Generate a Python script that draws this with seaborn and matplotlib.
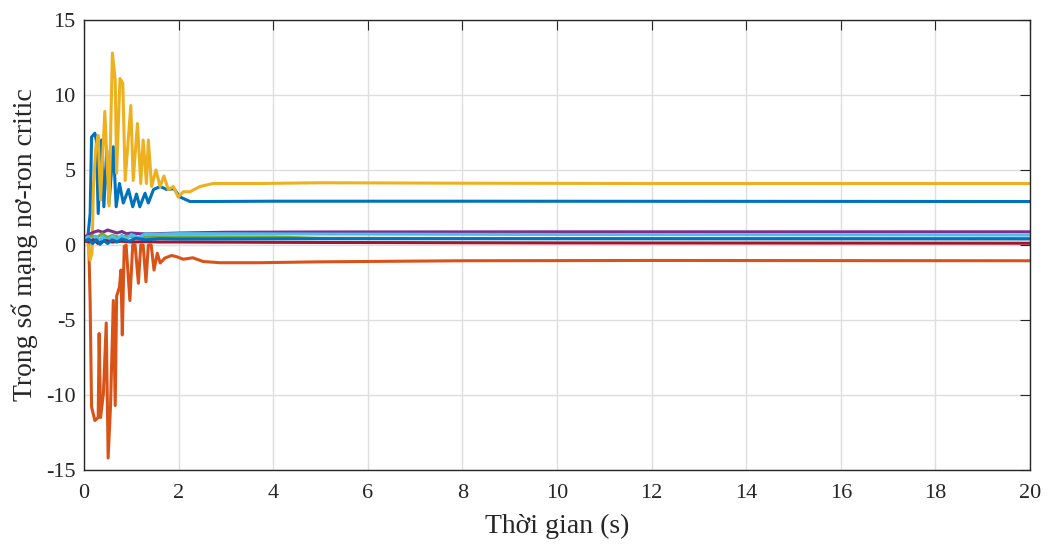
import numpy as np
import pandas as pd
import seaborn as sns
import matplotlib
matplotlib.use("Agg")
import matplotlib.pyplot as plt

# weight trajectories (time in s, weight value)
blue_t = [0, 0.08, 0.13, 0.16, 0.23, 0.26, 0.30, 0.37, 0.42, 0.48, 0.53, 0.62, 0.68, 0.75, 0.83, 0.94,
          1.03, 1.11, 1.18, 1.29, 1.36, 1.47, 1.61, 1.75, 1.9, 2.03, 2.24, 2.6, 4, 8, 20]
blue_v = [0.3, 0.5, 2.1, 7.2, 7.45, 7.0, 2.1, 7.0, 2.55, 6.3, 2.8, 6.55, 2.55, 4.1, 2.8, 3.7,
          2.55, 3.4, 2.55, 3.45, 2.8, 3.7, 3.9, 3.7, 3.75, 3.2, 2.9, 2.9, 2.92, 2.92, 2.9]

orange_t = [0, 0.1, 0.13, 0.16, 0.23, 0.30, 0.32, 0.35, 0.41, 0.47, 0.51, 0.56, 0.62, 0.66, 0.69, 0.75,
            0.78, 0.81, 0.85, 0.89, 0.97, 1.03, 1.08, 1.15, 1.20, 1.25, 1.31, 1.36, 1.42, 1.48, 1.55,
            1.61, 1.71, 1.85, 1.96, 2.1, 2.3, 2.52, 2.88, 3.7, 5.0, 8.0, 12, 20]
orange_v = [0.3, 0.2, -3.8, -10.8, -11.7, -11.5, -5.9, -11.5, -9.9, -5.2, -14.2, -10.8, -3.7, -10.7, -3.4, -2.8,
            -1.67, -6.0, -0.1, 0.0, -3.7, 0.0, 0.0, -2.55, 0.0, 0.0, -2.45, 0.0, 0.0, -1.67, -0.55,
            -1.2, -0.87, -0.7, -0.78, -0.95, -0.85, -1.1, -1.18, -1.18, -1.12, -1.05, -1.03, -1.05]

yellow_t = [0, 0.08, 0.13, 0.17, 0.2, 0.25, 0.30, 0.35, 0.44, 0.53, 0.60, 0.66, 0.69, 0.76, 0.82, 0.87,
            0.99, 1.04, 1.13, 1.20, 1.25, 1.32, 1.36, 1.43, 1.52, 1.61, 1.69, 1.78, 1.89, 1.99, 2.10,
            2.24, 2.45, 2.73, 3.7, 5, 8, 12, 20]
yellow_v = [0.6, 0.2, -1.0, -0.5, 4.0, 6.5, 7.3, 3.0, 8.9, 2.6, 12.8, 11.0, 4.8, 11.1, 10.8, 4.3,
            9.3, 4.3, 8.1, 4.1, 7.0, 4.1, 7.0, 3.9, 5.0, 3.9, 4.6, 3.7, 3.9, 3.2, 3.55,
            3.55, 3.9, 4.1, 4.1, 4.15, 4.12, 4.1, 4.1]

purple_t = [0, 0.1, 0.2, 0.3, 0.4, 0.5, 0.6, 0.7, 0.8, 0.9, 1.0, 1.2, 1.5, 2.0, 3, 5, 10, 20]
purple_v = [0.5, 0.7, 0.85, 0.95, 0.85, 1.0, 0.9, 0.8, 0.9, 0.75, 0.8, 0.75, 0.75, 0.8, 0.85, 0.87, 0.88, 0.88]

green_t = [0, 0.1, 0.17, 0.25, 0.38, 0.5, 0.6, 0.75, 0.9, 1.1, 1.4, 2.0, 4.0, 5.0, 10, 20]
green_v = [0.4, 0.55, 0.6, 0.45, 0.75, 0.5, 0.65, 0.5, 0.6, 0.5, 0.55, 0.55, 0.53, 0.45, 0.43, 0.42]

cyan_t = [0, 0.08, 0.16, 0.24, 0.32, 0.4, 0.5, 0.6, 0.7, 0.8, 0.9, 1.0, 1.15, 1.3, 1.5, 2.0, 5, 10, 20]
cyan_v = [0.3, 0.55, 0.2, 0.6, 0.3, 0.55, 0.25, 0.6, 0.35, 0.65, 0.4, 0.7, 0.5, 0.75, 0.72, 0.76, 0.73, 0.7, 0.66]

red_t = [0, 0.1, 0.2, 0.3, 0.45, 0.6, 0.8, 1.0, 1.3, 1.6, 2.0, 5, 10, 20]
red_v = [0.3, 0.2, 0.35, 0.1, 0.3, 0.2, 0.25, 0.2, 0.22, 0.2, 0.2, 0.17, 0.14, 0.12]

blue2_t = [0, 0.1, 0.18, 0.26, 0.34, 0.42, 0.5, 0.6, 0.7, 0.8, 0.95, 1.1, 1.3, 1.6, 2.0, 5, 10, 20]
blue2_v = [0.2, 0.4, 0.1, 0.35, 0.05, 0.3, 0.1, 0.35, 0.2, 0.4, 0.25, 0.45, 0.35, 0.42, 0.4, 0.42, 0.42, 0.41]

series = [
    (blue_t, blue_v, "#0072BD"),
    (orange_t, orange_v, "#D95319"),
    (yellow_t, yellow_v, "#EDB120"),
    (purple_t, purple_v, "#7E2F8E"),
    (green_t, green_v, "#77AC30"),
    (cyan_t, cyan_v, "#4DBEEE"),
    (red_t, red_v, "#A2142F"),
    (blue2_t, blue2_v, "#0072BD"),
]

x_ticks = list(range(0, 21, 2))
y_ticks = list(range(-15, 16, 5))

sns.set_theme(style="white")
plt.rcParams["font.family"] = ["Liberation Serif", "DejaVu Serif"]
plt.rcParams["axes.unicode_minus"] = False

fig = plt.figure(figsize=(10.5, 5.48), dpi=100)
ax = fig.add_axes([0.08, 0.1423, 0.901, 0.8212])

for t, v, c in series:
    df = pd.DataFrame({"t": t, "v": v})
    sns.lineplot(data=df, x="t", y="v", color=c, linewidth=2.2, sort=False,
                 estimator=None, ax=ax, legend=False)

ax.set_xlim(0, 20)
ax.set_ylim(-15, 15)
ax.set_xticks(x_ticks)
ax.set_yticks(y_ticks)
ax.grid(True, color="#dedede", linewidth=1)
ax.set_axisbelow(True)
for s in ax.spines.values():
    s.set_color("#262626")
    s.set_linewidth(1.0)
ax.tick_params(direction="in", length=7, width=0.8, top=True, right=True,
               colors="#262626", labelsize=16)
ax.tick_params(axis="x", pad=10)
ax.tick_params(axis="y", pad=6)
ax.set_xlabel("Thời gian (s)", fontsize=20, color="#262626", labelpad=8)
ax.set_ylabel("Trọng số mạng nơ-ron critic", fontsize=20, color="#262626", labelpad=6)

fig.savefig("out.png", dpi=100)
